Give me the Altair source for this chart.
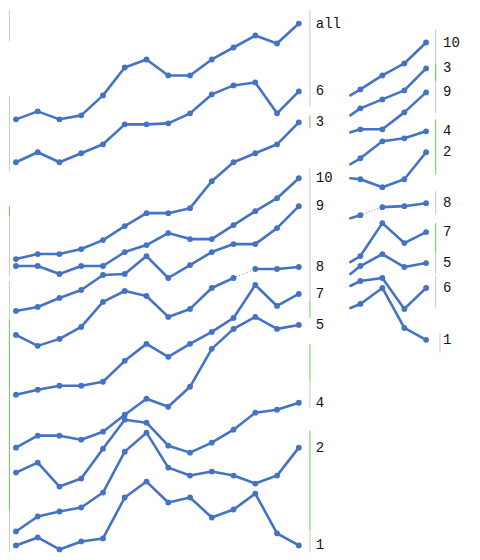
import altair as alt
import pandas as pd

# time steps of the two panels
left_steps = list(range(14))
right_steps = [15.37, 15.83, 16.84, 17.85, 18.85]

# values (arbitrary units, higher = higher on page)
left_series = {
    "all": [442, 450, 442, 446, 466, 494, 502, 486, 486, 502, 514, 526, 518, 538],
    "6":   [399, 409, 399, 408, 417, 437, 437, 438, 448, 467, 476, 479, 448, 470],
    "3":   [302, 307, 307, 312, 321, 335, 348, 348, 353, 380, 399, 408, 417, 439],
    "10":  [295, 295, 287, 295, 295, 309, 316, 328, 322, 322, 336, 350, 363, 383],
    "9":   [250, 254, 263, 271, 286, 287, 305, 283, 296, 309, 317, 317, 333, 355],
    "8":   [226, 215, 222, 234, 259, 270, 265, 244, 252, 273, 283, 292, 292, 294],
    "7":   [166, 171, 175, 175, 179, 200, 217, 204, 217, 229, 243, 276, 255, 267],
    "5":   [113, 125, 125, 121, 129, 146, 162, 154, 174, 212, 232, 244, 232, 236],
    "4":   [88, 98, 74, 82, 112, 141, 138, 115, 108, 118, 131, 148, 151, 158],
    "2":   [29, 44, 49, 53, 68, 109, 128, 93, 85, 89, 85, 77, 85, 113],
    "1":   [15, 23, 11, 19, 22, 63, 79, 58, 63, 43, 51, 67, 27, 15],
}
right_series = {
    "10": [466, 472, 486, 498, 519],
    "3":  [446, 453, 462, 471, 493],
    "9":  [429, 432, 432, 449, 469],
    "4":  [397, 403, 420, 423, 430],
    "2":  [383, 382, 374, 382, 409],
    "8":  [343, 346, 354, 355, 358],
    "7":  [299, 305, 338, 318, 329],
    "5":  [287, 295, 307, 294, 298],
    "6":  [275, 280, 283, 252, 273],
    "1":  [253, 257, 273, 233, 221],
}

# decorative thin axis rules: (x step, low value, high value, colour)
rule_x = [13.51] * 8 + [19.29] * 7 + [19.49] + [-0.30] * 7
rule_lo = [455, 433, 260, 243, 180, 153, 30, 8,
           448, 480, 387, 347, 308, 287, 253, 208,
           520, 390, 285, 345, 240, 50, 8]
rule_hi = [552, 446, 393, 260, 217, 180, 130, 30,
           532, 497, 442, 370, 338, 308, 285, 228,
           552, 465, 345, 355, 280, 240, 50]
GREY, GREEN = "#c9c9c9", "#66cc55"
rule_col = [GREY, GREEN, GREY, GREEN, GREEN, GREY, GREEN, GREY,
            GREY, GREEN, GREEN, GREY, GREEN, GREY, GREY, GREY,
            GREY, GREY, GREY, GREEN, GREY, GREEN, GREY]

rows = []
conn = []
for name, vals in left_series.items():
    for i, (t, v) in enumerate(zip(left_steps, vals)):
        seg = "b" if (name == "8" and i >= 11) else "a"
        rows.append(dict(series=name, t=t, v=v, key="L" + name + seg,
                         dot=True, last=(i == len(vals) - 1)))
        if name == "8" and i in (10, 11):
            conn.append(dict(t=t, v=v, key="Lc"))
for name, vals in right_series.items():
    for i, (t, v) in enumerate(zip(right_steps, vals)):
        seg = "b" if (name == "8" and i >= 2) else "a"
        rows.append(dict(series=name, t=t, v=v, key="R" + name + seg,
                         dot=(i > 0), last=(i == len(vals) - 1)))
        if name == "8" and i in (1, 2):
            conn.append(dict(t=t, v=v, key="Rc"))
df = pd.DataFrame(rows)
cdf = pd.DataFrame(conn)
rdf = pd.DataFrame(dict(x=rule_x, lo=rule_lo, hi=rule_hi, c=rule_col))

BLUE = "#4472c4"
xs = alt.Scale(domain=[-0.32, 20.96], nice=False, zero=False)
ys = alt.Scale(domain=[8, 552], nice=False, zero=False)
X = alt.X("t:Q", scale=xs, axis=None)
Y = alt.Y("v:Q", scale=ys, axis=None)

rules = alt.Chart(rdf).mark_rule(strokeWidth=1).encode(
    x=alt.X("x:Q", scale=xs, axis=None),
    y=alt.Y("lo:Q", scale=ys, axis=None),
    y2="hi:Q",
    color=alt.Color("c:N", scale=None),
)

base = alt.Chart(df)
lines = base.mark_line(color=BLUE, strokeWidth=2.6, strokeCap="round",
                       strokeJoin="round").encode(x=X, y=Y, detail="key:N", order="t:Q")
points = base.mark_circle(color=BLUE, size=34, opacity=1).encode(x=X, y=Y).transform_filter("datum.dot")
labels = base.mark_text(align="left", baseline="middle", dx=17, font="Liberation Mono",
                        fontSize=14, color="#111111").encode(x=X, y=Y, text="series:N").transform_filter("datum.last")
connector = alt.Chart(cdf).mark_line(color="#6a7f99", strokeWidth=1, strokeDash=[1, 2]).encode(
    x=X, y=Y, detail="key:N")

chart = alt.layer(rules, connector, lines, points, labels).properties(
    width=464, height=544, padding=0, background="white"
).configure_view(stroke=None)

chart.save("out.html", embed_options={"renderer": "svg", "actions": False})
